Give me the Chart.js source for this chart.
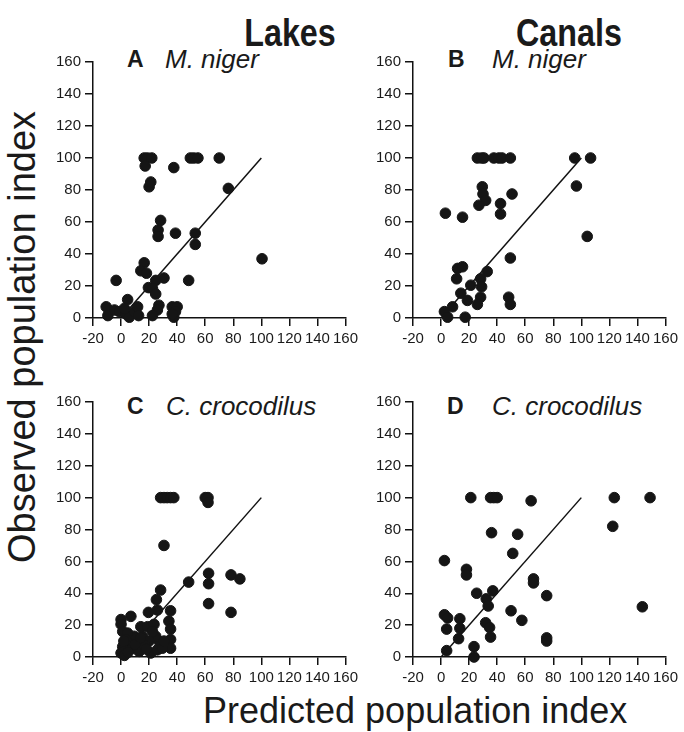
<!DOCTYPE html>
<html>
<head>
<meta charset="utf-8">
<script src="https://cdn.jsdelivr.net/npm/chart.js@4.4.0/dist/chart.umd.min.js"></script>
<style>
  html, body { margin: 0; padding: 0; background: #fff; overflow: hidden; }
  body { width: 684px; height: 732px; position: relative; font-family: "Liberation Sans", Arial, sans-serif; color: #1a1a1a; }
  canvas { position: absolute; }
  .txt { position: absolute; white-space: nowrap; line-height: 1; }
  .head { font-weight: bold; font-size: 38px; transform: translateX(-50%) scaleX(0.85); }
  .let { font-weight: bold; font-size: 23px; }
  .sp { font-style: italic; font-size: 26px; }
</style>
</head>
<body>
<div class="txt head" style="left:290px; top:14px;">Lakes</div>
<div class="txt head" style="left:569px; top:14px;">Canals</div>

<div class="txt let" style="left:127px; top:48px;">A</div>
<div class="txt sp" style="left:165px; top:46px;">M. niger</div>
<div class="txt let" style="left:448px; top:48px;">B</div>
<div class="txt sp" style="left:492px; top:46px;">M. niger</div>
<div class="txt let" style="left:127px; top:395px;">C</div>
<div class="txt sp" style="left:166px; top:393px;">C. crocodilus</div>
<div class="txt let" style="left:447px; top:395px;">D</div>
<div class="txt sp" style="left:492px; top:393px;">C. crocodilus</div>

<div class="txt" style="left:22px; top:337px; font-size:38px; transform: translate(-50%,-50%) rotate(-90deg);">Observed population index</div>
<div class="txt" style="left:203px; top:693px; font-size:36px;">Predicted population index</div>

<canvas id="cA"></canvas>
<canvas id="cB"></canvas>
<canvas id="cC"></canvas>
<canvas id="cD"></canvas>

<script>
// A: lakes, M. niger
var aX = [16.5, 18.8, 21.9, 17.2, 20, 21.2, 37.6, 49.4, 51.8, 54.8, 70, 76.5, 28.2, 26.4, 26.4, 38.8, 52.9, 52.9, 100.5, 16.5, 14.1, 18.1, -3.5, 48.2, 30.6, 24.7, 19.5, 22.4, 24.7, 27, 25.9, 22.4, 4.7, -10.6, -9.4, -4.7, -1.2, 3.5, 5.9, 9.4, 11.8, 12.5, 2.4, 36.5, 40, 38.8, 37.6, 36.5];
var aY = [100, 100, 100, 95, 82, 85, 94, 100, 100, 100, 100, 81, 61, 55, 51, 53, 53, 46, 37, 34.5, 29.5, 28, 23.5, 23.5, 25, 23.5, 19, 18.5, 15, 8, 5, 1.5, 11.5, 7, 1.5, 5, 4, 2.5, 0.5, 4, 7, 1.5, 6, 7, 7, 4, 0.5, 2.5];

// B: canals, M. niger
var bX = [25.9, 28.9, 30.6, 37.6, 41.2, 43.5, 49.4, 95.3, 106.6, 96.5, 104.2, 29.4, 29.9, 31.8, 27, 42.4, 42.4, 50.6, 3.1, 15.3, 11.8, 15.3, 11.1, 32.9, 49.4, 28.2, 28.9, 28.2, 21.2, 14.1, 18.8, 25.9, 48.2, 49.4, 8.2, 2.4, 4.7, 17.2];
var bY = [100, 100, 100, 100, 100, 100, 100, 100, 100, 82.5, 51, 82, 77.5, 73.5, 70.5, 71.5, 65, 77.5, 65.5, 63, 31, 32, 24.5, 29, 37.5, 24.5, 19.5, 13, 20.5, 15.5, 11, 8.5, 13, 8.5, 7, 4, 0.5, 0.5];

// C: lakes, C. crocodilus
var cX = [28.2, 30.6, 32.9, 35.3, 37.6, 60, 62, 62, 30.6, 48.2, 62.4, 62.4, 62.4, 78.4, 84.7, 78.4, 28.2, 25.2, 25.9, 19.5, 35.3, 34.1, 35.3, 35.3, 35.3,
          0, 0, 1.2, 7, 14.1, 18.8, 23.5, 15.3, 10.6, 5.9, 1.2, 0, 2.4, 8.2, 12.9, 21.2, 25.9, 27, 24.7, 20, 16.5, 9.4, 4.7, 3.5, 22.4, 29.4, 30.6, 5, 10, 18, 14, 2];
var cY = [100, 100, 100, 100, 100, 100, 100, 97, 70, 47, 52.5, 46, 33.5, 51.5, 49, 28, 42, 36, 29.5, 28, 29, 22.5, 17.5, 11, 5.5,
          23.5, 20.5, 16, 25.5, 19, 19, 20.5, 13, 11, 9, 6.5, 2.5, 1, 5.5, 3.5, 2.5, 4.5, 10, 13, 10, 7.5, 13, 15, 11, 16, 5.5, 10, 3, 8, 5, 12, 10];

// D: canals, C. crocodilus
var dX = [21.2, 35.3, 37.6, 40, 64.2, 123.5, 149, 122.4, 36, 54.6, 51.1, 2.4, 18.1, 18.1, 25.4, 36.9, 32.2, 33.6, 65.9, 65.9, 75.3, 143.5, 49.9, 57.6, 31.8, 34.6, 35.3, 75.3, 75.3, 2.4, 4.7, 4, 13.4, 13.4, 12.5, 4, 23.5, 23.5];
var dY = [100, 100, 100, 100, 98, 100, 100, 82, 78, 77, 65, 60.5, 55, 51.5, 40, 41.5, 36.5, 32, 49, 46.5, 38.5, 31.5, 29, 23, 21.5, 18.5, 12.5, 12, 10, 26.5, 24.5, 17.5, 24, 18, 11.5, 4, 6.5, 0];

// 1:1 reference line
var lineX = [0, 100];
var lineY = [0, 100];

function pts(xs, ys) {
  return xs.map(function (x, i) { return { x: x, y: ys[i] }; });
}

// plot area in page pixels: left, top, right, bottom
function makePanel(id, xs, ys, left, top, right, bottom) {
  var padTop = 22, padRight = 14, yW = 53, xH = 32;
  var cv = document.getElementById(id);
  var w = right - left + yW + padRight;
  var h = bottom - top + padTop + xH;
  cv.width = w; cv.height = h;
  cv.style.width = w + 'px'; cv.style.height = h + 'px';
  cv.style.left = (left - yW) + 'px';
  cv.style.top = (top - padTop) + 'px';

  var axisCommon = {
    grid: { drawOnChartArea: false, drawTicks: true, tickLength: 8, color: '#111', lineWidth: 1.5 },
    border: { display: true, color: '#111', width: 1.5 },
    ticks: { color: '#1a1a1a', font: { family: 'Liberation Sans', size: 15 }, padding: 4, autoSkip: false, maxRotation: 0, stepSize: 20 }
  };

  new Chart(cv, {
    type: 'scatter',
    data: {
      datasets: [{
        data: pts(xs, ys),
        backgroundColor: '#151515',
        borderColor: '#151515',
        pointRadius: 5.3,
        pointHoverRadius: 5.3,
        clip: false
      }, {
        type: 'line',
        data: pts(lineX, lineY),
        borderColor: '#111',
        borderWidth: 1.5,
        pointRadius: 0,
        fill: false
      }]
    },
    options: {
      responsive: false,
      animation: false,
      events: [],
      layout: { padding: { top: padTop, right: padRight, left: 0, bottom: 0 } },
      plugins: { legend: { display: false }, tooltip: { enabled: false } },
      scales: {
        x: Object.assign({}, axisCommon, {
          type: 'linear', min: -20, max: 160,
          afterFit: function (s) { s.height = xH; }
        }),
        y: Object.assign({}, axisCommon, {
          type: 'linear', min: 0, max: 160,
          afterFit: function (s) { s.width = yW; }
        })
      }
    }
  });
}

makePanel('cA', aX, aY, 93, 62, 348, 318);
makePanel('cB', bX, bY, 413, 62, 668, 318);
makePanel('cC', cX, cY, 93, 402, 348, 657);
makePanel('cD', dX, dY, 413, 402, 668, 657);
</script>
</body>
</html>
